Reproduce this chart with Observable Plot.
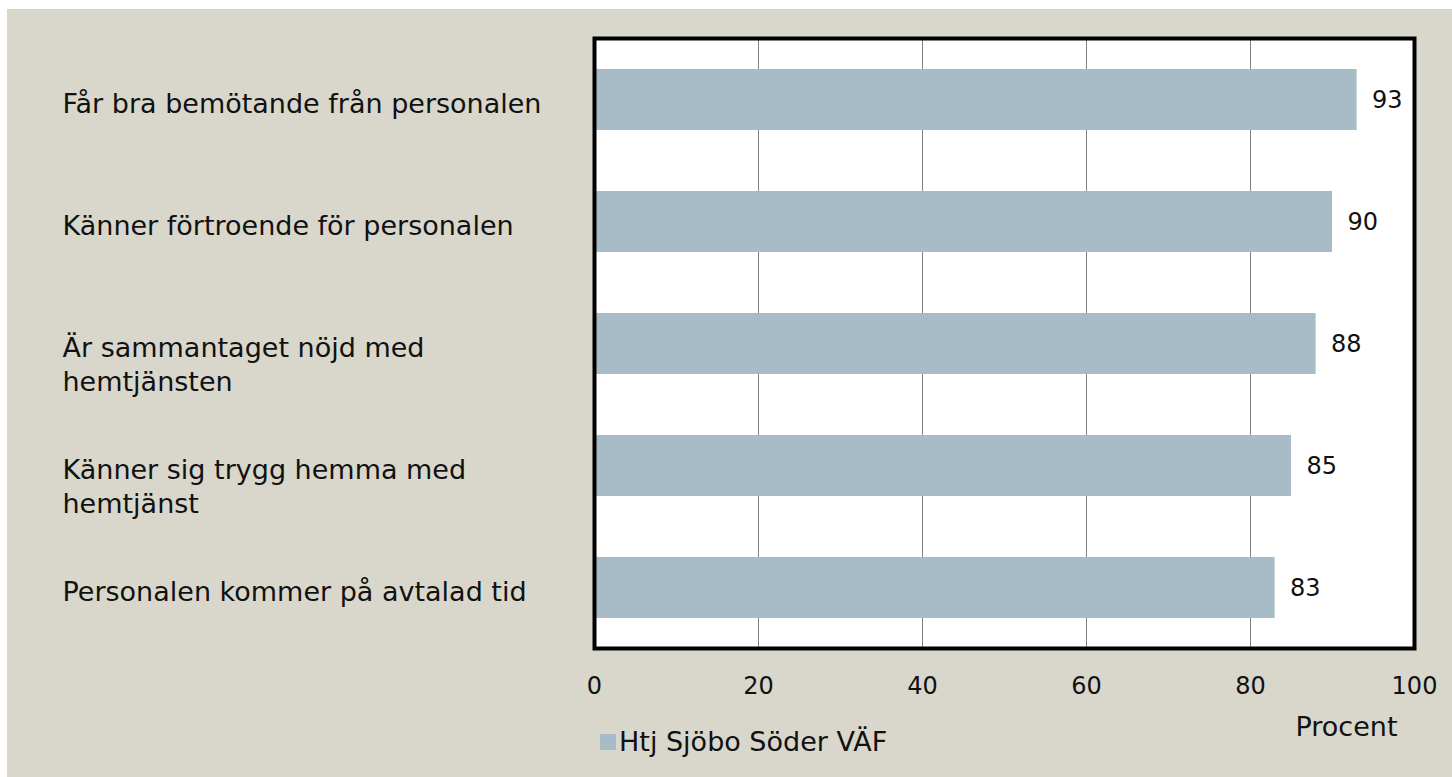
<!DOCTYPE html>
<html>
<head>
<meta charset="utf-8">
<script src="https://cdn.jsdelivr.net/npm/d3@7"></script>
<script src="https://cdn.jsdelivr.net/npm/@observablehq/plot@0.6"></script>
<style>
  html, body { margin: 0; padding: 0; background: #ffffff; }
  #wrap { position: absolute; left: 7px; top: 9px; width: 1445px; height: 768px; background: #d9d7cc; overflow: hidden; }
  #legend { position: absolute; left: 593px; top: 717px; font-family: "DejaVu Sans", sans-serif; font-size: 27px; color: #111; display: flex; align-items: center; }
  #legend .sw { display: inline-block; width: 16px; height: 16px; background: #a7bcc6; margin-right: 3px; }
</style>
</head>
<body>
<div id="wrap">
  <div id="chart"></div>
  <div id="legend"><span class="sw"></span><span id="legendText"></span></div>
</div>
<script>
const categories = [
  "Får bra bemötande från personalen",
  "Känner förtroende för personalen",
  "Är sammantaget nöjd med\nhemtjänsten",
  "Känner sig trygg hemma med\nhemtjänst",
  "Personalen kommer på avtalad tid"
];
const values = [93, 90, 88, 85, 83];
const xTicks = [0, 20, 40, 60, 80, 100];
const gridTicks = [20, 40, 60, 80];
const seriesName = "Htj Sjöbo Söder VÄF";
const xLabel = "Procent";

const data = categories.map((c, i) => ({label: c, value: values[i]}));
const barColor = "#a7bcc6";
const font = "'DejaVu Sans', sans-serif";

const chart = Plot.plot({
  width: 1445,
  height: 768,
  marginLeft: 587,
  marginRight: 38,
  marginTop: 29,
  marginBottom: 129,
  style: {background: "transparent", fontFamily: font, fontSize: "24px", color: "#111"},
  x: {domain: [0, 100], ticks: xTicks},
  y: {domain: categories, paddingInner: 0.5, paddingOuter: 0.25},
  marks: [
    Plot.frame({fill: "white", stroke: null}),
    Plot.gridX(gridTicks, {stroke: "#808080", strokeOpacity: 1, strokeWidth: 1}),
    Plot.barX(data, {x: "value", y: "label", fill: barColor}),
    Plot.frame({stroke: "black", strokeWidth: 4}),
    Plot.axisX({ticks: xTicks, tickSize: 0, tickPadding: 28, label: null, fontSize: 24, style: {letterSpacing: "-1px"}}),
    Plot.axisY({ticks: [], label: null}),
    Plot.text(data, {y: "label", text: "label", frameAnchor: "left", dx: -532, dy: -11, textAnchor: "start", lineAnchor: "top", lineHeight: 1.26, fontSize: 27, fill: "#111"}),
    Plot.text(data, {x: "value", y: "label", text: d => String(d.value), dx: 15, textAnchor: "start", fontSize: 24, fill: "#111"}),
    Plot.text([xLabel], {text: d => d, frameAnchor: "bottom-right", dx: -17, dy: 79, textAnchor: "end", lineAnchor: "middle", fontSize: 27, fill: "#111"})
  ]
});
document.getElementById("chart").appendChild(chart);
document.getElementById("legendText").textContent = seriesName;
</script>
</body>
</html>
